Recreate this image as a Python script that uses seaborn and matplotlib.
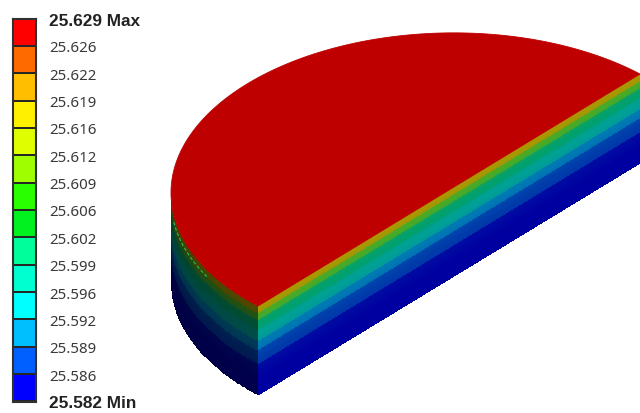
import numpy as np
import seaborn as sns
import matplotlib.pyplot as plt
from matplotlib.colors import ListedColormap, to_rgb

# Legend of the contour plot
legend_values = ['25.629 Max', '25.626', '25.622', '25.619', '25.616', '25.612', '25.609', '25.606',
                 '25.602', '25.599', '25.596', '25.592', '25.589', '25.586', '25.582 Min']
legend_colors = ['#ff0000', '#ff6a00', '#ffbf00', '#fff000', '#dfff00', '#9fff00', '#2aff00', '#00f020',
                 '#00ff9a', '#00ffd0', '#00ffff', '#00bfff', '#0060ff', '#0000ff']

# Colour bands down the wall of the solid, depth as a fraction of the height
band_depths = [0.0, 0.09, 0.17, 0.28, 0.40, 0.51, 0.66, 1.0]
band_colors = ['#aa9600', '#46aa28', '#00a06e', '#00a096', '#0078b4', '#003caa', '#0000a0']
top_color = '#be0000'

W, H = 640, 414
fig = plt.figure(figsize=(W / 100, H / 100), dpi=100)
sns.set_style('white')
plt.rcParams['font.family'] = ['Noto Sans', 'DejaVu Sans']

# Solid, drawn on an axes in image pixels
ax = fig.add_axes([0, 0, 1, 1])
ax.set_xlim(0, W)
ax.set_ylim(H, 0)
ax.axis('off')

corner = np.array([258.0, 307.0])
half_edge = np.array([191.0, -116.0])
bulge = np.array([-202.0, -106.0])
wall = 89.0
centre = corner + half_edge
t_left = np.arctan2(-bulge[0], half_edge[0])  # where the arc turns back, the silhouette


def arc(t):
    return (centre[0] - half_edge[0] * np.cos(t) + bulge[0] * np.sin(t),
            centre[1] - half_edge[1] * np.cos(t) + bulge[1] * np.sin(t))


def band_rgb(depth):
    # soft edges between the bands, the picture is a bit blurred
    rgb = np.array([to_rgb(c) for c in band_colors])
    mids = (np.array(band_depths[:-1]) + np.array(band_depths[1:])) / 2
    hard = rgb[np.clip(np.searchsorted(band_depths, depth, side='right') - 1, 0, len(band_colors) - 1)]
    soft = np.stack([np.interp(depth, mids, rgb[:, i]) for i in range(3)], axis=1)
    return 0.7 * hard + 0.3 * soft


depth = np.linspace(0, 1, 180)
depth_mid = (depth[:-1] + depth[1:]) / 2
colors = band_rgb(depth_mid)

# flat wall
s = np.array([0.0, 2.05])
X = corner[0] + np.outer(s, half_edge[0] * np.ones_like(depth))
Y = corner[1] + np.outer(s, half_edge[1] * np.ones_like(depth)) + wall * depth
ax.pcolormesh(X, Y, colors[None, :, :], shading='flat')

# curved wall, darker towards the left
t = np.linspace(0, t_left, 120)
ax_x, ax_y = arc(t)
X = np.repeat(ax_x[:, None], len(depth), axis=1)
Y = ax_y[:, None] + wall * depth[None, :]
shade = np.interp((t[:-1] + t[1:]) / 2, [0, t_left], [0.48, 0.4])
ax.pcolormesh(X, Y, shade[:, None, None] * colors[None, :, :], shading='flat')

# speckle on the curved wall
t_dash = np.linspace(0.3, 0.68, 30)
dx, dy = arc(t_dash)
ax.plot(dx, dy + wall * 0.08, color='#22c05a', lw=0.8, ls=(0, (3, 2)))

# top face
tt = np.linspace(0, np.pi, 300)
fx, fy = arc(tt)
ax.fill(fx, fy, color=top_color, lw=0.6)

# Legend bar with labels on the cell boundaries
ax_leg = fig.add_axes([12.5 / W, 1 - 402.5 / H, 23.5 / W, 383 / H])
cells = np.arange(len(legend_colors)).reshape(-1, 1)
sns.heatmap(cells, ax=ax_leg, cmap=ListedColormap(legend_colors), cbar=False,
            linewidths=1.2, linecolor='#262626', xticklabels=False)
for spine in ax_leg.spines.values():
    spine.set_visible(True)
    spine.set_color('#303030')
    spine.set_linewidth(1.5)
ax_leg.yaxis.tick_right()
ax_leg.set_yticks(np.arange(len(legend_values)))
ax_leg.set_yticklabels(legend_values, rotation=0, color='#3a3a3a', fontsize=10.8)
ax_leg.tick_params(axis='y', length=0, pad=9.5)
for lab in (ax_leg.get_yticklabels()[0], ax_leg.get_yticklabels()[-1]):
    lab.set_family('Liberation Sans')
    lab.set_fontweight('bold')
    lab.set_fontsize(12.4)
    lab.set_color('#222222')

fig.savefig('out.png', dpi=100)
